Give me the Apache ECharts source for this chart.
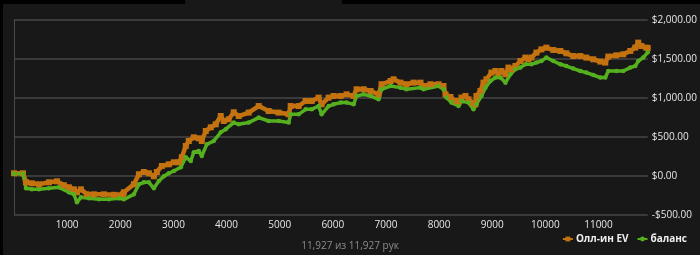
<!DOCTYPE html>
<html><head><meta charset="utf-8">
<script src="https://cdn.jsdelivr.net/npm/echarts@6/dist/echarts.min.js"></script>
<style>html,body{margin:0;padding:0;background:#000;}#c{width:700px;height:255px;}</style>
</head><body><div id="c"></div>
<script>
// hands played (x) and values ($)
const evHands = [0,169,226,338,470,658,808,940,1034,1128,1184,1259,1372,1504,1692,1880,2049,2068,2256,2350,2444,2538,2632,2688,2782,2914,3008,3102,3158,3233,3289,3383,3477,3534,3609,3703,3797,3891,3947,4041,4135,4229,4417,4605,4793,4981,5169,5207,5357,5489,5602,5733,5789,5921,6015,6147,6259,6391,6447,6579,6711,6861,6917,7086,7143,7274,7387,7519,7650,7707,7838,7989,8083,8120,8214,8308,8365,8421,8496,8553,8609,8684,8703,8778,8835,8891,8985,9060,9117,9173,9248,9305,9361,9436,9530,9624,9680,9737,9831,9925,10019,10150,10282,10395,10526,10658,10771,10902,11034,11128,11184,11335,11466,11598,11692,11748,11805,11898,11927];
const evValues = [35,35,-81,-94,-107,-81,-68,-119,-145,-171,-209,-171,-235,-235,-235,-241,-235,-209,-106,22,51,35,-4,51,128,150,176,176,240,385,449,496,483,449,577,624,663,769,705,727,817,769,813,897,833,813,791,897,897,962,962,1005,919,1005,1026,1026,1047,1026,1112,1112,1090,1047,1176,1218,1240,1197,1176,1197,1197,1154,1176,1176,1154,1047,1013,962,941,1005,1026,983,941,919,1026,1090,1197,1240,1326,1346,1304,1346,1304,1390,1368,1410,1474,1518,1496,1518,1582,1624,1646,1615,1603,1573,1538,1538,1518,1496,1467,1454,1531,1547,1560,1603,1646,1710,1667,1646,1640];
const balHands = [0,169,226,338,470,658,846,1034,1128,1184,1259,1410,1598,1786,1974,2068,2256,2350,2444,2538,2632,2726,2820,2914,3008,3139,3233,3327,3383,3477,3534,3628,3759,3891,3985,4135,4229,4417,4605,4793,4981,5169,5207,5357,5489,5602,5733,5789,5921,6015,6147,6259,6391,6447,6579,6711,6861,6917,7086,7274,7387,7650,7707,7989,8083,8139,8233,8365,8421,8553,8647,8703,8797,8872,8966,9060,9154,9248,9342,9436,9530,9624,9737,9831,9925,10019,10150,10282,10395,10526,10658,10771,10902,11034,11128,11184,11335,11466,11598,11692,11748,11842,11927];
const balValues = [30,30,-158,-171,-171,-158,-145,-209,-235,-337,-273,-286,-299,-299,-286,-299,-235,-106,-81,-81,-158,-64,-4,35,64,112,240,192,304,321,256,406,449,560,600,685,663,685,749,705,705,685,791,791,855,855,897,791,897,919,941,941,919,1026,1047,1026,983,1112,1154,1133,1112,1133,1112,1154,1112,1005,941,897,962,941,855,919,1026,1133,1218,1262,1262,1197,1304,1368,1390,1432,1432,1454,1474,1518,1474,1432,1410,1377,1346,1326,1295,1262,1262,1346,1346,1346,1390,1410,1474,1518,1586];
const yTicks = [-500,0,500,1000,1500,2000];
const totalHands = 11927;

const zip = (a,b) => a.map((x,i)=>[x,b[i]]);
const fmt = v => (v<0?'-':'') + '$' + Math.abs(v).toLocaleString('en-US',{minimumFractionDigits:2,maximumFractionDigits:2});

const chart = echarts.init(document.getElementById('c'), null, {renderer:'canvas'});
chart.setOption({
  backgroundColor: 'transparent',
  animation: false,
  textStyle: {fontFamily: '"Open Sans", "Noto Sans", sans-serif'},
  graphic: [
    {type:'rect', z:-10, shape:{x:3,y:4,width:697,height:251}, style:{fill:'#181818'}},
    {type:'rect', z:-10, shape:{x:185,y:0,width:157,height:5}, style:{fill:'#181818'}},
    {type:'text', left:'center', top:241, style:{text: totalHands.toLocaleString('en-US') + ' из ' + totalHands.toLocaleString('en-US') + ' рук', fill:'#8c8c8c', font:'10px "Open Sans", sans-serif'}}
  ],
  grid: {left:14, right:49, top:20, bottom:40},
  legend: {
    right: 8, bottom: 6, itemGap: 8, itemWidth: 10, itemHeight: 6,
    textStyle: {color:'#eeeeee', fontSize:10, fontWeight:'bold', padding:[0,0,0,-2]},
    data: ['Олл-ин EV','баланс']
  },
  xAxis: {
    type:'value', min:0, max:totalHands, interval:1000,
    axisLine:{show:false}, axisTick:{show:false}, splitLine:{show:false},
    axisLabel:{color:'#e6e6e6', fontSize:10, margin:5,
      formatter: v => (v>0 && v%1000===0) ? String(v) : ''}
  },
  yAxis: {
    type:'value', position:'right', min:yTicks[0], max:yTicks[yTicks.length-1], interval:500,
    axisLine:{show:true, lineStyle:{color:'#4a4a4a', width:1}}, axisTick:{show:false},
    splitLine:{lineStyle:{color:'#3a3a3a', width:2}},
    axisLabel:{color:'#e6e6e6', fontSize:10, margin:4, formatter: fmt}
  },
  series: [
    {name:'Олл-ин EV', type:'line', data: zip(evHands, evValues), color:'#c4720f',
      symbol:'rect', symbolSize:6, showSymbol:true,
      lineStyle:{width:4.5, color:'#c4720f'}, itemStyle:{color:'#c4720f'}},
    {name:'баланс', type:'line', data: zip(balHands, balValues), color:'#55b01f',
      symbol:'circle', symbolSize:4.5, showSymbol:true,
      lineStyle:{width:3.5, color:'#55b01f'}, itemStyle:{color:'#55b01f'}}
  ]
});
</script></body></html>
